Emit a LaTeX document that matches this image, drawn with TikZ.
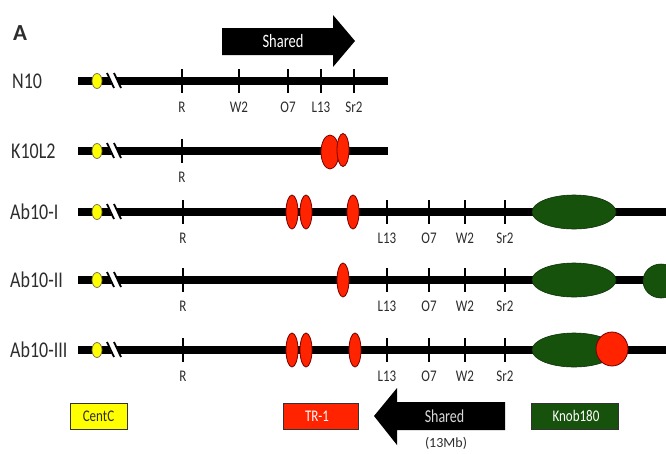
\documentclass[tikz,border=0pt]{standalone}
\usepackage{graphicx}
\usepackage{fontspec}
\setmainfont{Carlito}
\usetikzlibrary{shapes.geometric}
\definecolor{cyel}{RGB}{255,255,0}
\definecolor{cred}{RGB}{255,35,0}
\definecolor{cgreen}{RGB}{22,82,12}
\definecolor{ctext}{RGB}{45,45,45}
\newcommand\vstretch[1]{\scalebox{1}[1.25]{#1}}
\begin{document}
\begin{tikzpicture}[x=1pt,y=-1pt,
  chrom/.style={line width=8pt, black},
  tickmark/.style={line width=2pt, black},
  ticklab/.style={font=\fontsize{13}{13}\selectfont, text=ctext, inner sep=0pt},
  rowlab/.style={font=\fontsize{18}{18}\selectfont, text=ctext, anchor=west, inner sep=0pt},
  cen/.style={ellipse, fill=cyel, draw=black!60!yellow, line width=0.8pt, minimum width=10pt, minimum height=15pt, inner sep=0pt},
  trone/.style={ellipse, fill=cred, draw=red!45!black, line width=0.8pt, minimum width=12pt, minimum height=34pt, inner sep=0pt},
  knob/.style={ellipse, fill=cgreen, draw=cgreen!60!black, line width=0.6pt, minimum width=84pt, minimum height=34pt, inner sep=0pt},
  legbox/.style={rectangle, draw=black!80, line width=0.8pt, minimum height=26pt, inner sep=0pt},
  legtext/.style={font=\fontsize{13}{13}\selectfont, inner sep=0pt},
  brkwhite/.style={white, line width=7pt},
  brkblack/.style={black, line width=1.8pt}
]
\useasboundingbox (0,0) rectangle (666,453);
\fill[white] (0,0) rectangle (666,453);

% panel letter
\node[font=\bfseries\fontsize{23}{23}\selectfont, text=ctext, inner sep=0pt] (lettA) at (20,33) {A};

% top shared arrow
\fill[black] (222,28) -- (333,28) -- (333,15) -- (355,41) -- (333,67) -- (333,55) -- (222,55) -- cycle;
\node[font=\fontsize{14.5}{14.5}\selectfont, text=white, inner sep=0pt] (sharedtop) at (283,41) {\scalebox{1}[1.3]{Shared}};

% ---------- N10 ----------
\node[rowlab] (labN) at (12,81) {\vstretch{N10}};
\coordinate (nS) at (78,81); \coordinate (nE) at (388,81);
\draw[chrom] (nS) -- (nE);
\draw[brkwhite] (110,72) -- (118,90);
\draw[brkblack] (107,73) -- (114,88);
\draw[brkblack] (114,73) -- (121,88);
\node[cen] (cenN) at (97,81) {};
\foreach \x/\t/\n in {182/R/nR, 239/W2/nW, 288/O7/nO, 321/L13/nL, 354/Sr2/nS2}{
  \draw[tickmark] (\x,69) -- (\x,93);
  \node[ticklab] (\n) at (\x,107) {\vstretch{\t}};
}

% ---------- K10L2 ----------
\node[rowlab] (labK) at (11,151) {\vstretch{K10L2}};
\coordinate (kS) at (78,151); \coordinate (kE) at (388,151);
\draw[chrom] (kS) -- (kE);
\draw[brkwhite] (110,142) -- (118,160);
\draw[brkblack] (107,143) -- (114,158);
\draw[brkblack] (114,143) -- (121,158);
\node[cen] (cenK) at (97,151) {};
\draw[tickmark] (182,139) -- (182,163);
\node[ticklab] (kR) at (182,177) {\vstretch{R}};
\node[trone, minimum width=18pt, minimum height=34pt] (kT1) at (330,152) {};
\node[trone, minimum width=12pt, minimum height=33pt] (kT2) at (343,150) {};

% ---------- Ab10-I ----------
\node[rowlab] (labA1) at (10,212) {\vstretch{Ab10-I}};
\coordinate (a1S) at (78,212); \coordinate (a1E) at (666,212);
\draw[chrom] (a1S) -- (a1E);
\draw[brkwhite] (110,203) -- (118,221);
\draw[brkblack] (107,204) -- (114,219);
\draw[brkblack] (114,204) -- (121,219);
\node[cen] (cenA1) at (97,212) {};
\foreach \x/\t/\n in {183/R/aiR, 387/L13/aiL, 429/O7/aiO, 465/W2/aiW, 505/Sr2/aiS}{
  \draw[tickmark] (\x,200) -- (\x,224);
  \node[ticklab] (\n) at (\x,238) {\vstretch{\t}};
}
\node[trone] (a1T1) at (292,212) {};
\node[trone] (a1T2) at (306,212) {};
\node[trone] (a1T3) at (353,212) {};
\node[knob] (a1K) at (574,212) {};

% ---------- Ab10-II ----------
\node[rowlab] (labA2) at (10,280) {\vstretch{Ab10-II}};
\coordinate (a2S) at (78,280); \coordinate (a2E) at (666,280);
\draw[chrom] (a2S) -- (a2E);
\draw[brkwhite] (110,271) -- (118,289);
\draw[brkblack] (107,272) -- (114,287);
\draw[brkblack] (114,272) -- (121,287);
\node[cen] (cenA2) at (97,280) {};
\foreach \x/\t/\n in {183/R/aiiR, 387/L13/aiiL, 429/O7/aiiO, 465/W2/aiiW, 505/Sr2/aiiS}{
  \draw[tickmark] (\x,268) -- (\x,292);
  \node[ticklab] (\n) at (\x,306) {\vstretch{\t}};
}
\node[trone] (a2T1) at (343,280) {};
\node[knob] (a2K) at (574,280) {};
\node[knob, minimum width=36pt] (a2K2) at (661,281) {};

% ---------- Ab10-III ----------
\node[rowlab] (labA3) at (10,350) {\vstretch{Ab10-III}};
\coordinate (a3S) at (78,350); \coordinate (a3E) at (666,350);
\draw[chrom] (a3S) -- (a3E);
\draw[brkwhite] (110,341) -- (118,359);
\draw[brkblack] (107,342) -- (114,357);
\draw[brkblack] (114,342) -- (121,357);
\node[cen] (cenA3) at (97,350) {};
\foreach \x/\t/\n in {183/R/aiiiR, 387/L13/aiiiL, 429/O7/aiiiO, 465/W2/aiiiW, 505/Sr2/aiiiS}{
  \draw[tickmark] (\x,338) -- (\x,362);
  \node[ticklab] (\n) at (\x,376) {\vstretch{\t}};
}
\node[trone] (a3T1) at (292,350) {};
\node[trone] (a3T2) at (306,350) {};
\node[trone] (a3T3) at (355,350) {};
\node[knob] (a3K) at (574,350) {};
\node[trone, minimum width=32pt, minimum height=34pt] (a3T4) at (612,349) {};

% ---------- legend ----------
\node[legbox, fill=cyel, minimum width=57pt] (legC) at (98.5,416) {};
\node[legtext, text=ctext] (legCt) at (legC) {\vstretch{CentC}};
\node[legbox, fill=cred, minimum width=75pt] (legT) at (320.5,416) {};
\node[legtext, text=white] (legTt) at (317,416) {\vstretch{TR-1}};
\node[legbox, fill=cgreen, minimum width=87pt] (legK) at (574.5,416) {};
\node[legtext, text=white] (legKt) at (576,416) {\vstretch{Knob180}};
\fill[black] (505,402) -- (397,402) -- (397,388) -- (374,416) -- (397,445) -- (397,430) -- (505,430) -- cycle;
\node[font=\fontsize{14}{14}\selectfont, text=white!85!black, inner sep=0pt] (sharedleg) at (444.5,416) {\scalebox{1}[1.3]{Shared}};
\node[font=\fontsize{14}{14}\selectfont, text=ctext, inner sep=0pt] (mb) at (446,443) {(13Mb)};
\end{tikzpicture}
\end{document}
